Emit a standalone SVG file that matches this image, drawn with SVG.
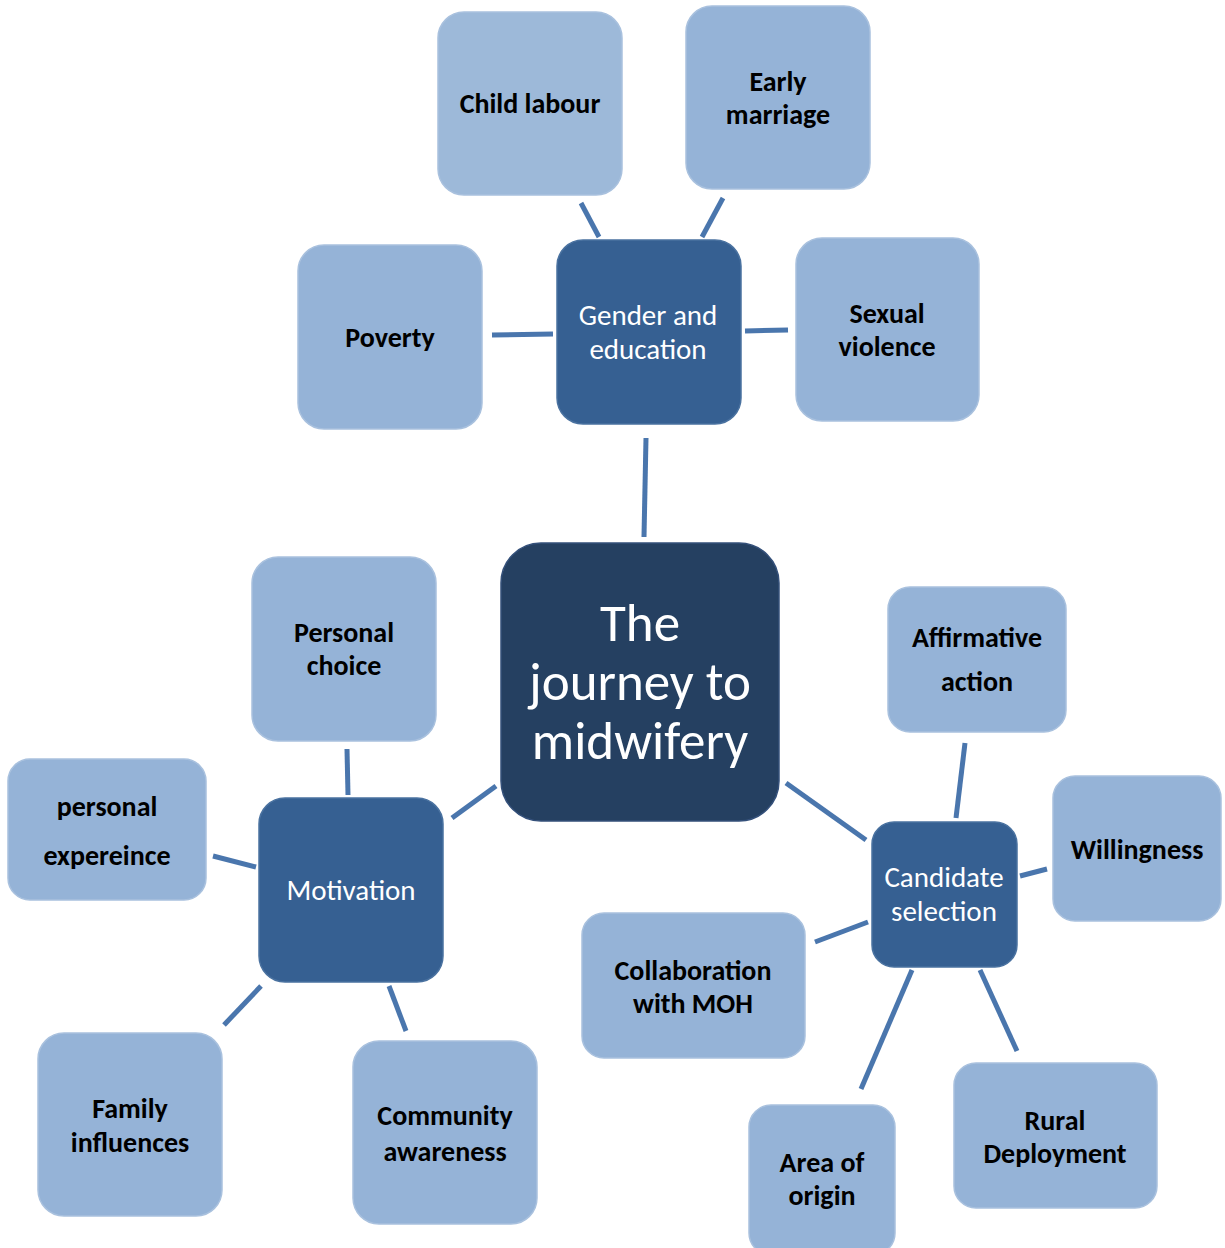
<svg xmlns="http://www.w3.org/2000/svg" width="1225" height="1248" viewBox="0 0 1225 1248">
<style>
.leaf{fill:#95B3D7;stroke:#A9C1DE;stroke-width:1.5}
.mid{fill:#366092;stroke:#4A72A0;stroke-width:1.5}
.core{fill:#254061;stroke:#34507a;stroke-width:1.5}
.lt{font-family:Carlito,Lato,"Open Sans",sans-serif;font-weight:bold;font-size:28px;fill:#000;text-anchor:middle;dominant-baseline:central}
.wt{font-family:Carlito,Lato,"Open Sans",sans-serif;font-size:29px;fill:#fff;text-anchor:middle;dominant-baseline:central}
.ct{font-family:Carlito,Lato,"Open Sans",sans-serif;font-size:53px;fill:#fff;text-anchor:middle;dominant-baseline:central}
.con line{stroke:#4A76AD;stroke-width:5}
</style>
<rect width="1225" height="1248" fill="#fff"/>
<g class="con" id="connectors">
<line x1="581" y1="203" x2="599" y2="237"/>
<line x1="723" y1="198" x2="702" y2="237"/>
<line x1="492" y1="335" x2="553" y2="334"/>
<line x1="745" y1="331" x2="788" y2="330"/>
<line x1="646" y1="438" x2="644" y2="537"/>
<line x1="347" y1="749" x2="348" y2="795"/>
<line x1="213" y1="856" x2="256" y2="867"/>
<line x1="452" y1="818" x2="496" y2="786"/>
<line x1="786" y1="783" x2="866" y2="840"/>
<line x1="965" y1="743" x2="956" y2="818"/>
<line x1="1020" y1="876" x2="1047" y2="869"/>
<line x1="815" y1="942" x2="868" y2="922"/>
<line x1="912" y1="970" x2="861" y2="1089"/>
<line x1="980" y1="970" x2="1017" y2="1051"/>
<line x1="261" y1="986" x2="224" y2="1025"/>
<line x1="389" y1="986" x2="406" y2="1031"/>
</g>
<g id="child-labour"><rect class="leaf" x="438" y="12" width="184" height="183" rx="26" style="fill:#9DB9D9"/><text class="lt" x="530" y="103">Child labour</text></g>
<g id="early-marriage"><rect class="leaf" x="686" y="6" width="184" height="183" rx="26"/><text class="lt" x="778" y="81">Early</text><text class="lt" x="778" y="114">marriage</text></g>
<g id="poverty"><rect class="leaf" x="298" y="245" width="184" height="184" rx="26"/><text class="lt" x="390" y="337">Poverty</text></g>
<g id="gender-education"><rect class="mid" x="557" y="240" width="184" height="184" rx="26"/><text class="wt" x="648" y="315">Gender and</text><text class="wt" x="648" y="349">education</text></g>
<g id="sexual-violence"><rect class="leaf" x="796" y="238" width="183" height="183" rx="26"/><text class="lt" x="887" y="313">Sexual</text><text class="lt" x="887" y="346">violence</text></g>
<g id="center"><rect class="core" x="501" y="543" width="278" height="278" rx="40"/><text class="ct" x="640" y="623">The</text><text class="ct" x="640" y="682">journey to</text><text class="ct" x="640" y="741">midwifery</text></g>
<g id="personal-choice"><rect class="leaf" x="252" y="557" width="184" height="184" rx="26"/><text class="lt" x="344" y="632">Personal</text><text class="lt" x="344" y="665">choice</text></g>
<g id="affirmative-action"><rect class="leaf" x="888" y="587" width="178" height="145" rx="22"/><text class="lt" x="977" y="637">Affirmative</text><text class="lt" x="977" y="681">action</text></g>
<g id="willingness"><rect class="leaf" x="1053" y="776" width="168" height="145" rx="22"/><text class="lt" x="1137" y="849">Willingness</text></g>
<g id="personal-experience"><rect class="leaf" x="8" y="759" width="198" height="141" rx="22"/><text class="lt" x="107" y="806">personal</text><text class="lt" x="107" y="855">expereince</text></g>
<g id="motivation"><rect class="mid" x="259" y="798" width="184" height="184" rx="26"/><text class="wt" x="351" y="890">Motivation</text></g>
<g id="candidate-selection"><rect class="mid" x="872" y="822" width="145" height="145" rx="22"/><text class="wt" x="944" y="877">Candidate</text><text class="wt" x="944" y="911">selection</text></g>
<g id="collaboration-moh"><rect class="leaf" x="582" y="913" width="223" height="145" rx="22"/><text class="lt" x="693" y="970">Collaboration</text><text class="lt" x="693" y="1003">with MOH</text></g>
<g id="family-influences"><rect class="leaf" x="38" y="1033" width="184" height="183" rx="26"/><text class="lt" x="130" y="1108">Family</text><text class="lt" x="130" y="1142">influences</text></g>
<g id="community-awareness"><rect class="leaf" x="353" y="1041" width="184" height="183" rx="26"/><text class="lt" x="445" y="1115">Community</text><text class="lt" x="445" y="1151">awareness</text></g>
<g id="area-of-origin"><rect class="leaf" x="749" y="1105" width="146" height="150" rx="22"/><text class="lt" x="822" y="1162">Area of</text><text class="lt" x="822" y="1195">origin</text></g>
<g id="rural-deployment"><rect class="leaf" x="954" y="1063" width="203" height="145" rx="22"/><text class="lt" x="1055" y="1120">Rural</text><text class="lt" x="1055" y="1153">Deployment</text></g>
</svg>
